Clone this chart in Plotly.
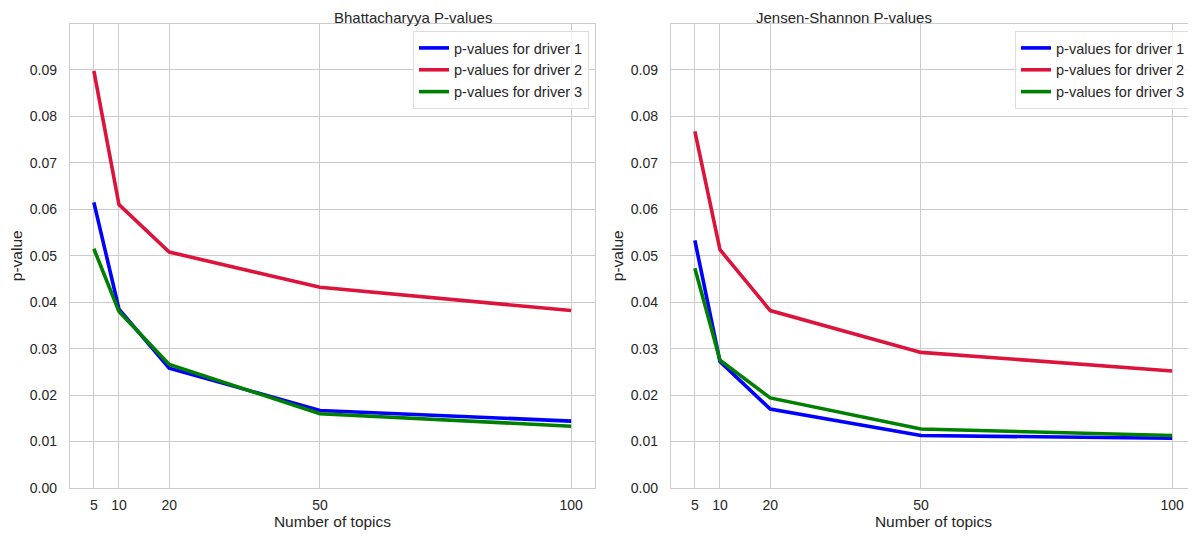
import plotly.graph_objects as go

topics = [5, 10, 20, 50, 100]
bhat_d1 = [0.0615, 0.0385, 0.0258, 0.0167, 0.0144]
bhat_d2 = [0.0898, 0.0610, 0.0508, 0.0432, 0.0382]
bhat_d3 = [0.0515, 0.0380, 0.0266, 0.0160, 0.0133]
js_d1 = [0.0533, 0.0272, 0.0170, 0.0113, 0.0107]
js_d2 = [0.0768, 0.0513, 0.0382, 0.0292, 0.0252]
js_d3 = [0.0473, 0.0275, 0.0194, 0.0127, 0.0113]
names = ["p-values for driver 1", "p-values for driver 2", "p-values for driver 3"]
colors = ["#0000ff", "#dc143c", "#008000"]
yticks = [0.0, 0.01, 0.02, 0.03, 0.04, 0.05, 0.06, 0.07, 0.08, 0.09]

FONT = "Liberation Sans, Arial, sans-serif"
TXT = "#262626"
GRID = "#cccccc"

fig = go.Figure()
for i, ys in enumerate([bhat_d1, bhat_d2, bhat_d3]):
    fig.add_trace(go.Scatter(x=topics, y=ys, mode="lines", name=names[i],
                             line=dict(color=colors[i], width=3.6),
                             xaxis="x", yaxis="y", legend="legend"))
for i, ys in enumerate([js_d1, js_d2, js_d3]):
    fig.add_trace(go.Scatter(x=topics, y=ys, mode="lines", name=names[i],
                             line=dict(color=colors[i], width=3.6),
                             xaxis="x2", yaxis="y2", legend="legend2"))

# page body adds an 8px offset, so the figure is laid out in shifted coordinates
W, H = 1188, 532
dl = [62 / W, 587 / W]
dr = [663 / W, 1.0]
dy = [52 / H, 516.5 / H]

def xax(domain, anchor):
    return dict(domain=domain, anchor=anchor, range=[0.25, 104.75],
                tickvals=topics, ticktext=[str(t) for t in topics],
                showgrid=True, gridcolor=GRID, gridwidth=1,
                showline=True, linecolor=GRID, linewidth=1.25, mirror=True,
                zeroline=False, ticks="", ticklabelstandoff=4, automargin=False,
                tickfont=dict(family=FONT, size=14, color=TXT),
                title=dict(text="Number of topics", standoff=1,
                           font=dict(family=FONT, size=15.5, color=TXT)))

def yax(anchor):
    return dict(domain=dy, anchor=anchor, range=[0, 0.1],
                tickvals=yticks, tickformat=".2f",
                showgrid=True, gridcolor=GRID, gridwidth=1,
                showline=True, linecolor=GRID, linewidth=1.25, mirror=True,
                zeroline=False, ticks="", ticklabelstandoff=9, automargin=False,
                tickfont=dict(family=FONT, size=14, color=TXT),
                title=dict(text="p-value", standoff=3,
                           font=dict(family=FONT, size=15.5, color=TXT)))

leg_common = dict(xanchor="right", yanchor="top", bgcolor="rgba(255,255,255,0.8)",
                  bordercolor="#dddddd", borderwidth=1,
                  font=dict(family=FONT, size=14.5, color=TXT),
                  itemwidth=30, tracegroupgap=0)

fig.update_layout(
    width=W, height=H,
    margin=dict(l=0, r=0, t=0, b=0, autoexpand=False),
    paper_bgcolor="white", plot_bgcolor="white",
    showlegend=True,
    xaxis=xax(dl, "y"), yaxis=yax("x"),
    xaxis2=xax(dr, "y2"), yaxis2=yax("x2"),
    legend=dict(x=581 / W, y=(H - 23) / H, **leg_common),
    legend2=dict(x=1183 / W, y=(H - 23) / H, **leg_common),
    annotations=[
        dict(text="Bhattacharyya P-values", x=(dl[0] + dl[1]) / 2, y=1.0,
             xref="paper", yref="paper", showarrow=False, yanchor="top", borderpad=0,
             font=dict(family=FONT, size=15, color=TXT)),
        dict(text="Jensen-Shannon P-values", x=(dr[0] + dr[1]) / 2, y=1.0,
             xref="paper", yref="paper", showarrow=False, yanchor="top", borderpad=0,
             font=dict(family=FONT, size=15, color=TXT)),
    ],
)

fig.write_html("out.html")
